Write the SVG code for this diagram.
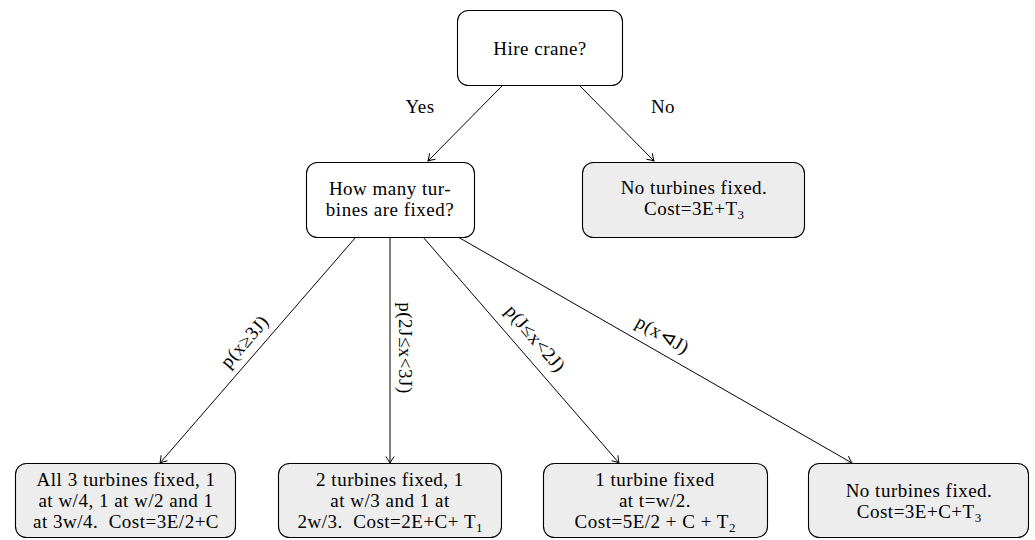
<svg xmlns="http://www.w3.org/2000/svg" width="1035" height="540" viewBox="0 0 1035 540">
<style>
.box{fill:#ffffff;stroke:#000;stroke-width:1.1}
.leaf{fill:#ededed;stroke:#000;stroke-width:1.1}
text{font-family:"Liberation Serif","DejaVu Serif",serif;font-size:19px;letter-spacing:0.5px;fill:#000}
.c{text-anchor:middle}
.edge{stroke:#000;stroke-width:1;fill:none;marker-end:url(#arr)}
.sub{font-size:13px;letter-spacing:0}
</style>
<defs>
<marker id="arr" markerUnits="userSpaceOnUse" markerWidth="12" markerHeight="12" refX="9" refY="6" orient="auto">
<path d="M2.5,1.8 Q6,4.5 9,6 Q6,7.5 2.5,10.2" fill="none" stroke="#000" stroke-width="1"/>
</marker>
</defs>
<g id="connectors">
<line class="edge" x1="502" y1="86" x2="428" y2="161"/>
<line class="edge" x1="580" y1="86" x2="654" y2="161"/>
<line class="edge" x1="356" y1="237" x2="160" y2="463"/>
<line class="edge" x1="390" y1="237" x2="390" y2="463"/>
<line class="edge" x1="423" y1="237" x2="619" y2="463"/>
<line class="edge" x1="458" y1="237" x2="852" y2="463"/>
<text x="420" y="113" class="c">Yes</text>
<text x="663" y="113" class="c">No</text>
<text class="c" transform="translate(244,341) rotate(-48.9)" dy="7">p(x≥3J)</text>
<text class="c" transform="translate(406,348) rotate(90)" dy="7">p(2J≤x&lt;3J)</text>
<text class="c" transform="translate(536,338) rotate(49.4)" dy="7">p(J≤x&lt;2J)</text>
<text class="c" transform="translate(663,334) rotate(29.7)" dy="7">p(x⊲J)</text>
</g>
<g id="hire">
<rect class="box" x="457.5" y="10.5" width="165" height="75" rx="11"/>
<text x="540" y="55" class="c">Hire crane?</text>
</g>
<g id="howmany">
<rect class="box" x="306.5" y="162.5" width="168" height="75" rx="11"/>
<text x="390" y="195" class="c">How many tur-</text>
<text x="390" y="216" class="c">bines are fixed?</text>
</g>
<g id="no-top">
<rect class="leaf" x="582.5" y="162.5" width="222" height="75" rx="11"/>
<text x="694" y="194" class="c">No turbines fixed.</text>
<text x="694" y="215" class="c">Cost=3E+T<tspan class="sub" dy="4">3</tspan></text>
</g>
<g id="leaf1">
<rect class="leaf" x="15.5" y="463.5" width="220" height="74" rx="11"/>
<text x="126" y="486" class="c">All 3 turbines fixed, 1</text>
<text x="126" y="507" class="c">at w/4, 1 at w/2 and 1</text>
<text x="126" y="528" class="c">at 3w/4.&#160; Cost=3E/2+C</text>
</g>
<g id="leaf2">
<rect class="leaf" x="278.5" y="463.5" width="223" height="74" rx="11"/>
<text x="390" y="486" class="c">2 turbines fixed, 1</text>
<text x="390" y="507" class="c">at w/3 and 1 at</text>
<text x="390" y="528" class="c">2w/3.&#160; Cost=2E+C+ T<tspan class="sub" dy="4">1</tspan></text>
</g>
<g id="leaf3">
<rect class="leaf" x="543.5" y="463.5" width="224" height="74" rx="11"/>
<text x="655" y="486" class="c">1 turbine fixed</text>
<text x="655" y="507" class="c">at t=w/2.</text>
<text x="655" y="528" class="c">Cost=5E/2 + C + T<tspan class="sub" dy="4">2</tspan></text>
</g>
<g id="leaf4">
<rect class="leaf" x="808.5" y="463.5" width="220" height="74" rx="11"/>
<text x="919" y="497" class="c">No turbines fixed.</text>
<text x="919" y="518" class="c">Cost=3E+C+T<tspan class="sub" dy="4">3</tspan></text>
</g>
</svg>
